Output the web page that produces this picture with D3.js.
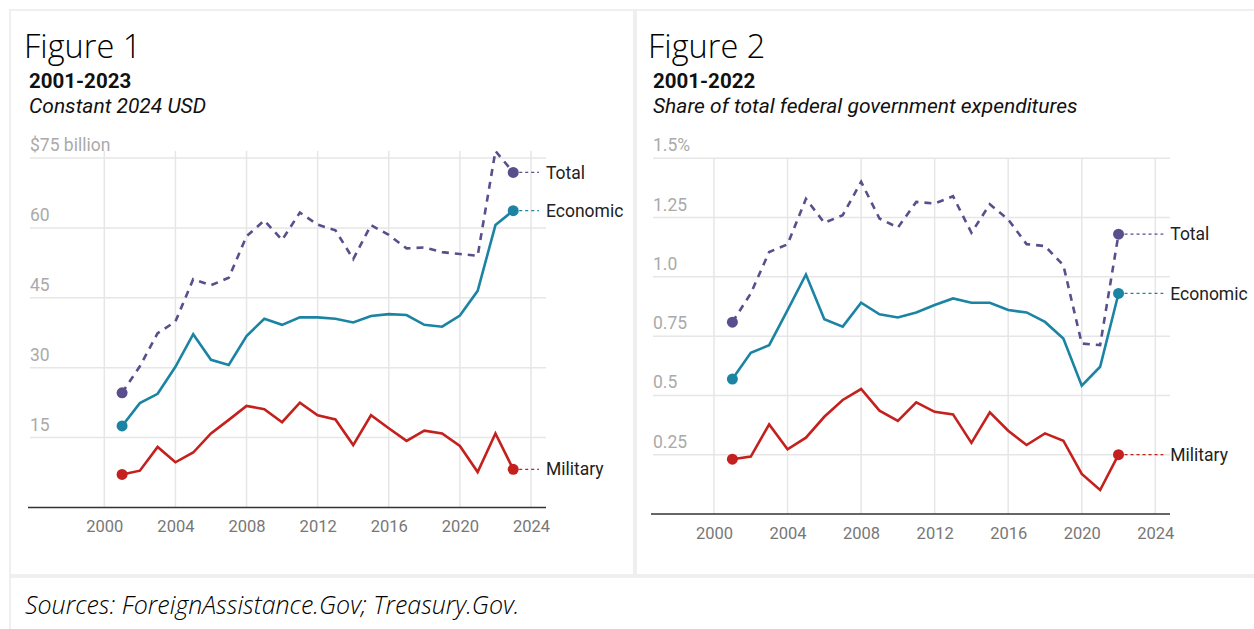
<!DOCTYPE html>
<html>
<head>
<meta charset="utf-8">
<script src="https://cdn.jsdelivr.net/npm/d3@7"></script>
<style>
  html, body { margin: 0; padding: 0; background: #fff; }
  svg { display: block; }
</style>
</head>
<body>
<svg id="chart" width="1254" height="629"></svg>
<script>
// ---------- DATA ----------
const years1 = [2001,2002,2003,2004,2005,2006,2007,2008,2009,2010,2011,2012,2013,2014,2015,2016,2017,2018,2019,2020,2021,2022,2023];
const total1 = [24.6,30.3,37.4,39.9,49.0,47.7,49.3,58.2,61.6,57.4,63.3,60.7,59.5,53.3,60.6,58.5,55.6,55.8,54.8,54.4,54.0,76.5,71.9];
const economic1 = [17.5,22.4,24.4,30.2,37.2,31.7,30.6,36.8,40.5,39.2,40.8,40.8,40.5,39.7,41.1,41.5,41.3,39.2,38.8,41.2,46.5,60.6,63.7];
const military1 = [7.1,7.9,13.0,9.7,11.8,15.9,18.8,21.8,21.1,18.3,22.5,19.8,18.9,13.4,19.8,17.0,14.3,16.5,15.9,13.2,7.6,15.9,8.2];

const years2 = [2001,2002,2003,2004,2005,2006,2007,2008,2009,2010,2011,2012,2013,2014,2015,2016,2017,2018,2019,2020,2021,2022];
const total2 = [0.809,0.93,1.105,1.137,1.329,1.228,1.26,1.401,1.246,1.208,1.316,1.309,1.34,1.186,1.306,1.242,1.138,1.13,1.049,0.719,0.712,1.18];
const economic2 = [0.569,0.68,0.712,0.86,1.01,0.821,0.79,0.891,0.842,0.829,0.85,0.881,0.909,0.891,0.891,0.86,0.85,0.81,0.74,0.541,0.621,0.93];
const military2 = [0.231,0.242,0.378,0.273,0.322,0.41,0.481,0.527,0.436,0.393,0.471,0.431,0.42,0.30,0.429,0.351,0.291,0.34,0.309,0.169,0.101,0.25];

const xTicks = [2000,2004,2008,2012,2016,2020,2024];
const yTicks1 = [15,30,45,60,75];
const yTickLabels1 = ["15","30","45","60","$75 billion"];
const yTicks2 = [0.25,0.5,0.75,1.0,1.25,1.5];
const yTickLabels2 = ["0.25","0.5","0.75","1.0","1.25","1.5%"];

const seriesNames = ["Total","Economic","Military"];
const colors = {Total: "#5b4e8c", Economic: "#1b84a3", Military: "#c4201d"};

// ---------- LAYOUT ----------
const svg = d3.select("#chart");
const border = "#efefef";
svg.append("rect").attr("x",10).attr("y",10).attr("width",624).attr("height",565)
   .attr("fill","#fff").attr("stroke",border).attr("stroke-width",2);
svg.append("rect").attr("x",636).attr("y",10).attr("width",640).attr("height",565)
   .attr("fill","#fff").attr("stroke",border).attr("stroke-width",2);
svg.append("rect").attr("x",10).attr("y",577).attr("width",1270).attr("height",70)
   .attr("fill","#fff").attr("stroke",border).attr("stroke-width",2);

svg.append("text").attr("x",25).attr("y",614)
   .style("font-family","'Open Sans'").style("font-style","italic").style("font-weight","300")
   .style("font-size","25px")
   .attr("fill","#000").text("Sources: ForeignAssistance.Gov; Treasury.Gov.");

function drawFigure(cfg) {
  const g = svg.append("g");
  g.append("text").attr("x",cfg.titleX-4).attr("y",58)
    .style("font-family","'Open Sans'").style("font-weight","300").style("font-size","32.5px")
    .attr("fill","#000").text(cfg.title);
  g.append("text").attr("x",cfg.titleX+1).attr("y",88)
    .style("font-family","Roboto").style("font-weight","700").style("font-size","20.5px").attr("fill","#111").text(cfg.sub1);
  g.append("text").attr("x",cfg.titleX+1).attr("y",113)
    .style("font-family","Roboto").style("font-style","italic").style("font-size","21px").attr("fill","#111").text(cfg.sub2);

  const x = d3.scaleLinear().domain([2000,2024]).range(cfg.xRange);
  const y = d3.scaleLinear().domain(cfg.yDomain).range(cfg.yRange);

  // horizontal grid
  g.selectAll(".hg").data(cfg.yTicks).join("line")
    .attr("x1",cfg.gridLeft).attr("x2",cfg.gridRight)
    .attr("y1",d=>y(d)).attr("y2",d=>y(d))
    .attr("stroke","#e6e6e6").attr("stroke-width",1.5);
  // vertical grid
  g.selectAll(".vg").data(xTicks).join("line")
    .attr("x1",d=>x(d)).attr("x2",d=>x(d))
    .attr("y1",cfg.vTop).attr("y2",y(0))
    .attr("stroke","#e6e6e6").attr("stroke-width",1.5);
  // y labels
  g.selectAll(".yl").data(cfg.yTicks).join("text")
    .attr("x",cfg.gridLeft).attr("y",d=>y(d)-7)
    .style("font-family","Roboto").style("font-size","17.5px").attr("fill","#aaaaaa")
    .text((d,i)=>cfg.yTickLabels[i]);
  // x axis
  const xAxis = d3.axisBottom(x).tickValues(xTicks).tickFormat(d3.format("d")).tickSize(0).tickPadding(13);
  const ax = g.append("g").attr("transform",`translate(0,${y(0)})`).call(xAxis);
  ax.select(".domain").remove();
  ax.selectAll("text").style("font-family","Roboto").style("font-size","16.5px").attr("fill","#777");
  g.append("line").attr("x1",cfg.gridLeft-2).attr("x2",cfg.gridRight)
    .attr("y1",y(0)).attr("y2",y(0)).attr("stroke","#333").attr("stroke-width",1.5);

  const line = d3.line().x(d=>x(d[0])).y(d=>y(d[1]));
  const seriesData = {Total: cfg.total, Economic: cfg.economic, Military: cfg.military};
  seriesNames.forEach(name => {
    const pts = cfg.years.map((yr,i)=>[yr, seriesData[name][i]]);
    g.append("path").datum(pts).attr("d",line).attr("fill","none")
      .attr("stroke",colors[name]).attr("stroke-width",2.6)
      .attr("stroke-linejoin","miter")
      .attr("stroke-dasharray", name==="Total" ? "7,6" : null);
    const first = pts[0], last = pts[pts.length-1];
    g.append("circle").attr("cx",x(first[0])).attr("cy",y(first[1])).attr("r",5.5).attr("fill",colors[name]);
    g.append("circle").attr("cx",x(last[0])).attr("cy",y(last[1])).attr("r",5.5).attr("fill",colors[name]);
    g.append("line").attr("x1",x(last[0])+6).attr("x2",x(2024)+8)
      .attr("y1",y(last[1])).attr("y2",y(last[1]))
      .attr("stroke",colors[name]).attr("stroke-width",1.3).attr("stroke-dasharray","3,3");
    g.append("text").attr("x",x(2024)+15).attr("y",y(last[1])).attr("dy","0.35em")
      .style("font-family","Roboto").style("font-size","17.5px").attr("fill","#222").text(name);
  });
}

drawFigure({
  title: "Figure 1", sub1: "2001-2023", sub2: "Constant 2024 USD", titleX: 28,
  xRange: [104.3, 531], yDomain: [0,75], yRange: [507.5, 158],
  gridLeft: 30, gridRight: 546, vTop: 151,
  yTicks: yTicks1, yTickLabels: yTickLabels1,
  years: years1, total: total1, economic: economic1, military: military1
});
drawFigure({
  title: "Figure 2", sub1: "2001-2022", sub2: "Share of total federal government expenditures", titleX: 652,
  xRange: [714, 1155.3], yDomain: [0,1.5], yRange: [514, 158.3],
  gridLeft: 653, gridRight: 1170, vTop: 158.3,
  yTicks: yTicks2, yTickLabels: yTickLabels2,
  years: years2, total: total2, economic: economic2, military: military2
});
</script>
</body>
</html>
